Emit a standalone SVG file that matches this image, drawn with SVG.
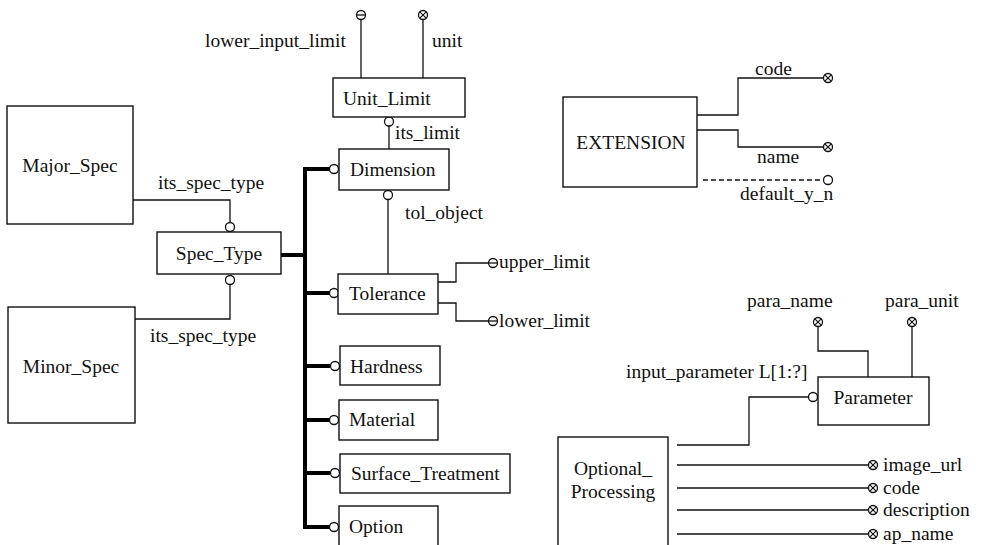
<svg xmlns="http://www.w3.org/2000/svg" xmlns:xlink="http://www.w3.org/1999/xlink" width="987" height="545" viewBox="0 0 987 545">
  <style>
    .box { fill: #ffffff; stroke: #111111; stroke-width: 1.4; }
    .ln { fill: none; stroke: #111111; stroke-width: 1.3; }
    .dash { fill: none; stroke: #111111; stroke-width: 1.3; stroke-dasharray: 5 3; }
    .bus { fill: none; stroke: #000000; stroke-width: 4; }
    text { font-family: 'Liberation Serif', 'Times New Roman', serif; font-size: 19.5px; fill: #111111; }
    .mid { text-anchor: middle; }
  </style>
  <defs>
    <!-- open circle end -->
    <g id="opt"><circle r="4.5" fill="#ffffff" stroke="#111111" stroke-width="1.3"/></g>
    <!-- circle with bar -->
    <g id="bar"><circle r="4.5" fill="#ffffff" stroke="#111111" stroke-width="1.3"/><path d="M-4.5,0H4.5" stroke="#111111" stroke-width="1.3"/></g>
    <!-- circle with cross -->
    <g id="cross"><circle r="4.5" fill="#ffffff" stroke="#111111" stroke-width="1.3"/><path d="M-3.2,-3.2L3.2,3.2M-3.2,3.2L3.2,-3.2" stroke="#111111" stroke-width="1.2"/></g>
  </defs>

  <g font-family="Liberation Serif, Times New Roman, serif">
  <!-- connectors -->
  <g id="connectors">
    <!-- spec type links -->
    <path class="ln" d="M133,200 H230 V222.5"/>
    <path class="ln" d="M230,284.5 V319 H135"/>
    <!-- subtype bus -->
    <path class="bus" d="M281,255 H305"/>
    <path class="bus" d="M305,167 V529"/>
    <path class="bus" d="M303,169 H330"/>
    <path class="bus" d="M305,293 H330"/>
    <path class="bus" d="M305,366 H330"/>
    <path class="bus" d="M305,420 H330"/>
    <path class="bus" d="M305,473 H330"/>
    <path class="bus" d="M303,527 H330"/>
    <use xlink:href="#opt" x="334" y="169"/>
    <use xlink:href="#opt" x="334" y="293"/>
    <use xlink:href="#opt" x="335" y="366"/>
    <use xlink:href="#opt" x="334" y="420"/>
    <use xlink:href="#opt" x="335" y="473"/>
    <use xlink:href="#opt" x="334" y="527"/>
    <use xlink:href="#opt" x="230" y="227"/>
    <use xlink:href="#opt" x="230" y="280"/>
    <!-- unit limit -->
    <path class="ln" d="M361,78 V19.5"/>
    <path class="ln" d="M423,78 V19.5"/>
    <use xlink:href="#bar" x="361" y="15"/>
    <use xlink:href="#cross" x="423" y="15"/>
    <path class="ln" d="M389,126 V149"/>
    <use xlink:href="#opt" x="389" y="121.5"/>
    <!-- tol_object -->
    <path class="ln" d="M388,199.5 V274"/>
    <use xlink:href="#opt" x="388" y="195"/>
    <!-- tolerance limits -->
    <path class="ln" d="M438,282 H456 V263 H488.5"/>
    <path class="ln" d="M438,303 H456 V321 H488.5"/>
    <use xlink:href="#bar" x="493" y="263"/>
    <use xlink:href="#bar" x="493" y="321"/>
    <!-- extension attributes -->
    <path class="ln" d="M697,115 H738 V78 H823.5"/>
    <path class="ln" d="M697,130 H738 V147 H823.5"/>
    <path class="dash" d="M703,180 H823.5"/>
    <use xlink:href="#cross" x="828" y="78"/>
    <use xlink:href="#cross" x="828" y="147"/>
    <use xlink:href="#opt" x="828" y="180"/>
    <!-- parameter attributes -->
    <path class="ln" d="M818,326.5 V351 H868 V377"/>
    <path class="ln" d="M912,326.5 V377"/>
    <use xlink:href="#cross" x="818" y="322"/>
    <use xlink:href="#cross" x="912" y="322"/>
    <!-- input parameter -->
    <path class="ln" d="M677,445 H749 V397 H808.5"/>
    <use xlink:href="#opt" x="813" y="397"/>
    <!-- optional processing attributes -->
    <path class="ln" d="M677,465 H868.5"/>
    <path class="ln" d="M677,488 H868.5"/>
    <path class="ln" d="M677,510 H868.5"/>
    <path class="ln" d="M677,534 H868.5"/>
    <use xlink:href="#cross" x="873" y="465"/>
    <use xlink:href="#cross" x="873" y="488"/>
    <use xlink:href="#cross" x="873" y="510"/>
    <use xlink:href="#cross" x="873" y="534"/>
  </g>

  <!-- connector labels -->
  <g id="labels">
    <text x="205" y="47">lower_input_limit</text>
    <text x="432" y="47">unit</text>
    <text x="395" y="139">its_limit</text>
    <text x="158" y="189">its_spec_type</text>
    <text x="150" y="342">its_spec_type</text>
    <text x="405" y="219">tol_object</text>
    <text x="499" y="268">upper_limit</text>
    <text x="499" y="327">lower_limit</text>
    <text x="755" y="75">code</text>
    <text x="757" y="163">name</text>
    <text x="740" y="200">default_y_n</text>
    <text x="747" y="307">para_name</text>
    <text x="885" y="307">para_unit</text>
    <text x="626" y="378">input_parameter L[1:?]</text>
    <text x="883" y="471">image_url</text>
    <text x="883" y="494">code</text>
    <text x="883" y="516">description</text>
    <text x="883" y="540">ap_name</text>
  </g>

  <g id="major-spec">
    <rect class="box" x="7" y="106" width="126" height="118"/>
    <text class="mid" x="70" y="172">Major_Spec</text>
  </g>
  <g id="minor-spec">
    <rect class="box" x="8" y="307" width="127" height="116"/>
    <text class="mid" x="71" y="373">Minor_Spec</text>
  </g>
  <g id="spec-type">
    <rect class="box" x="157" y="232" width="124" height="42"/>
    <text class="mid" x="219" y="260">Spec_Type</text>
  </g>
  <g id="unit-limit">
    <rect class="box" x="333" y="78" width="132" height="39"/>
    <text x="343" y="105">Unit_Limit</text>
  </g>
  <g id="dimension">
    <rect class="box" x="339" y="149" width="110" height="41"/>
    <text x="350" y="176">Dimension</text>
  </g>
  <g id="tolerance">
    <rect class="box" x="338" y="274" width="100" height="40"/>
    <text x="349" y="300">Tolerance</text>
  </g>
  <g id="hardness">
    <rect class="box" x="340" y="346" width="100" height="39"/>
    <text x="350" y="373">Hardness</text>
  </g>
  <g id="material">
    <rect class="box" x="339" y="400" width="99" height="40"/>
    <text x="349" y="426">Material</text>
  </g>
  <g id="surface-treatment">
    <rect class="box" x="340" y="454" width="170" height="39"/>
    <text x="351" y="480">Surface_Treatment</text>
  </g>
  <g id="option">
    <rect class="box" x="339" y="506" width="99" height="45"/>
    <text x="349" y="533">Option</text>
  </g>
  <g id="extension">
    <rect class="box" x="563" y="97" width="134" height="90"/>
    <text class="mid" x="631" y="149">EXTENSION</text>
  </g>
  <g id="parameter">
    <rect class="box" x="818" y="377" width="111" height="48"/>
    <text class="mid" x="873" y="404">Parameter</text>
  </g>
  <g id="optional-processing">
    <rect class="box" x="558" y="437" width="110" height="115"/>
    <text class="mid" x="613" y="475">Optional_</text>
    <text class="mid" x="613" y="498">Processing</text>
  </g>
  </g>
</svg>
